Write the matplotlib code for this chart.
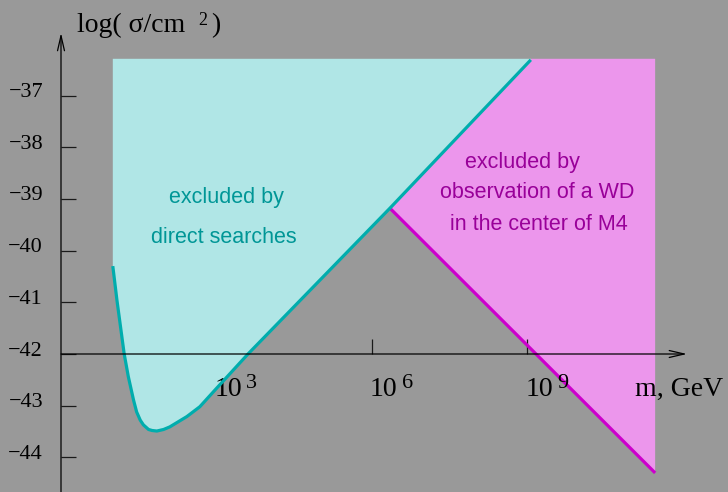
import matplotlib.pyplot as plt

# direct-search limit: log10(m / GeV) vs log10(sigma / cm^2)
direct_logm = [1.00, 1.08, 1.22, 1.30, 1.40, 1.46, 1.53, 1.59, 1.69, 1.76, 1.85, 1.98,
               2.10, 2.43, 2.68, 2.97, 3.61, 6.35, 9.07]
direct_logsig = [-40.30, -40.96, -42.00, -42.44, -42.89, -43.12, -43.28, -43.37, -43.46,
                 -43.48, -43.49, -43.46, -43.41, -43.21, -43.02, -42.70, -42.00, -39.18, -36.31]

# white dwarf in M4 bound
wd_logm = [6.35, 11.47]
wd_logsig = [-39.18, -44.30]

region_top = -36.29

xticks = [3, 6, 9]
xtick_exps = ['3', '6', '9']
yticks = [-37, -38, -39, -40, -41, -42, -43, -44]

# colours
bg = '#999999'
cyan_fill = '#b0e6e6'
teal = '#00adad'
teal_text = '#009696'
mag_fill = '#ec96ec'
mag_line = '#cc00cc'
mag_text = '#990099'

serif = 'Liberation Serif'
sans = 'Liberation Sans'

W, H = 728, 492
ppd_x, ppd_y = 51.8, 51.7      # pixels per decade
x0_px, y0_px = 61, 354         # where log m = 0 and log sigma = -42 sit

fig = plt.figure(figsize=(W / 100, H / 100), dpi=100, facecolor=bg)
ax = fig.add_axes([0, 0, 1, 1])
ax.set_facecolor(bg)
ax.set_xlim(-x0_px / ppd_x, (W - x0_px) / ppd_x)
ax.set_ylim(-42 - (H - y0_px) / ppd_y, -42 + y0_px / ppd_y)

# shaded regions
n_wd = [i for i, m in enumerate(direct_logm) if m >= wd_logm[0]]
mx = [direct_logm[i] for i in n_wd] + [direct_logm[-1], wd_logm[-1], wd_logm[-1]]
my = [direct_logsig[i] for i in n_wd] + [region_top, region_top, wd_logsig[-1]]
ax.fill(mx, my, color=mag_fill, lw=0, zorder=1)

cx = [direct_logm[0]] + direct_logm + [direct_logm[-1]]
cy = [region_top] + direct_logsig + [region_top]
ax.fill(cx, cy, color=cyan_fill, lw=0, zorder=2)

ax.plot(wd_logm, wd_logsig, color=mag_line, lw=2.3, zorder=3, solid_capstyle='butt')
ax.plot(direct_logm, direct_logsig, color=teal, lw=2.3, zorder=4,
        solid_capstyle='butt', solid_joinstyle='round')

# axes as arrows through the origin
for s in ax.spines.values():
    s.set_visible(False)
ax.spines['left'].set_position(('data', 0))
ax.spines['bottom'].set_position(('data', -42))
arrow = dict(arrowstyle='->,head_length=1.08,head_width=0.25', mutation_scale=10,
             lw=0.9, color='black', shrinkA=0, shrinkB=0)
ax.annotate('', xy=(0, -35.79), xytext=(0, ax.get_ylim()[0]), arrowprops=arrow, zorder=5)
ax.annotate('', xy=(12.085, -42), xytext=(0, -42), arrowprops=arrow, zorder=5)

ax.set_xticks(xticks)
ax.set_yticks(yticks)
ax.tick_params(direction='in', length=10.8, width=0.9, color='#1a1a1a',
               labelleft=False, labelbottom=False)

for v in yticks:
    ax.annotate('\u2212%d' % abs(v), xy=(0, v), xytext=(-18, -1.5), textcoords='offset pixels',
                ha='right', va='baseline', fontsize=16, family=serif)
for v, e in zip(xticks, xtick_exps):
    ax.annotate('10', xy=(v, -42), xytext=(-2, -42), textcoords='offset pixels',
                ha='left', va='baseline', fontsize=20, family=serif)
    ax.annotate(e, xy=(v, -42), xytext=(30, -34), textcoords='offset pixels',
                ha='left', va='baseline', fontsize=16, family=serif)

fig.text(635 / W, 1 - 396 / H, 'm, GeV', fontsize=20, family=serif, va='baseline')
fig.text(77 / W, 1 - 32 / H, 'log( \u03c3/cm', fontsize=20, family=serif, va='baseline')
fig.text(198 / W, 1 - 25 / H, '2', fontsize=13, family=serif, va='baseline')
fig.text(211 / W, 1 - 32 / H, ')', fontsize=20, family=serif, va='baseline')

# region labels
ax.text(3.20, -39.08, 'excluded by', color=teal_text, fontsize=15.5, family=sans,
        ha='center', va='baseline', zorder=6)
ax.text(3.14, -39.85, 'direct searches', color=teal_text, fontsize=15.5, family=sans,
        ha='center', va='baseline', zorder=6)
ax.text(8.91, -38.40, 'excluded by', color=mag_text, fontsize=15.5, family=sans,
        ha='center', va='baseline', zorder=6)
ax.text(9.20, -38.98, 'observation of a WD', color=mag_text, fontsize=15.5, family=sans,
        ha='center', va='baseline', zorder=6)
ax.text(9.23, -39.60, 'in the center of M4', color=mag_text, fontsize=15.5, family=sans,
        ha='center', va='baseline', zorder=6)

fig.savefig('out.png', dpi=100, facecolor=bg)
